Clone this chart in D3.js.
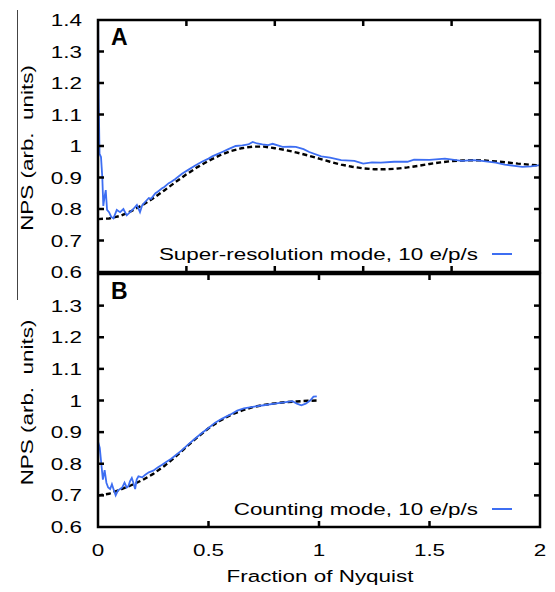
<!DOCTYPE html>
<html>
<head>
<meta charset="utf-8">
<script src="https://cdn.jsdelivr.net/npm/d3@7"></script>
<style>
  body { margin: 0; background: #fff; }
  svg { display: block; font-family: "Liberation Sans", Arial, sans-serif; }
</style>
</head>
<body>
<div id="chart"></div>
<script>
// ---- data ----
let superX = [0, 0.003, 0.007, 0.0136, 0.0195, 0.024, 0.03, 0.035, 0.041, 0.05, 0.06, 0.07, 0.085, 0.1, 0.115, 0.13, 0.145, 0.16, 0.176, 0.19, 0.2, 0.214, 0.23, 0.24, 0.26, 0.27, 0.29, 0.3, 0.32, 0.33, 0.35, 0.38, 0.41, 0.44, 0.47, 0.5, 0.517, 0.54, 0.562, 0.59, 0.623, 0.653, 0.68, 0.7, 0.72, 0.744, 0.77, 0.79, 0.835, 0.87, 0.895, 0.93, 0.956, 1.01, 1.05, 1.1, 1.16, 1.2, 1.24, 1.28, 1.34, 1.4, 1.43, 1.5, 1.57, 1.645, 1.7, 1.736, 1.8, 1.84, 1.92, 1.96, 2.0];
let superY = [1.45, 1.15, 0.975, 0.965, 0.9, 0.81, 0.84, 0.86, 0.797, 0.79, 0.775, 0.77, 0.797, 0.79, 0.8, 0.78, 0.79, 0.8, 0.813, 0.79, 0.812, 0.823, 0.835, 0.832, 0.85, 0.855, 0.866, 0.87, 0.882, 0.886, 0.895, 0.912, 0.925, 0.938, 0.95, 0.96, 0.967, 0.974, 0.981, 0.99, 1.0, 1.002, 1.005, 1.013, 1.008, 1.005, 1.003, 1.007, 0.997, 0.998, 0.997, 0.99, 0.981, 0.967, 0.963, 0.955, 0.953, 0.944, 0.948, 0.947, 0.95, 0.95, 0.957, 0.956, 0.96, 0.953, 0.955, 0.953, 0.947, 0.941, 0.934, 0.935, 0.939];

let superFitX = [0, 0.05, 0.1, 0.15, 0.2, 0.25, 0.3, 0.35, 0.4, 0.45, 0.5, 0.55, 0.6, 0.65, 0.7, 0.75, 0.8, 0.85, 0.9, 0.95, 1.0, 1.05, 1.1, 1.15, 1.2, 1.25, 1.3, 1.35, 1.4, 1.45, 1.5, 1.55, 1.6, 1.65, 1.7, 1.75, 1.8, 1.85, 1.9, 1.95, 2.0];
let superFitY = [0.768, 0.770, 0.778, 0.793, 0.812, 0.834, 0.859, 0.885, 0.910, 0.933, 0.953, 0.970, 0.984, 0.993, 0.998, 0.998, 0.993, 0.987, 0.979, 0.970, 0.960, 0.950, 0.941, 0.934, 0.929, 0.926, 0.926, 0.928, 0.932, 0.937, 0.943, 0.948, 0.952, 0.954, 0.955, 0.954, 0.951, 0.948, 0.944, 0.941, 0.938];

let countX = [0, 0.008, 0.015, 0.022, 0.03, 0.038, 0.046, 0.055, 0.063, 0.07, 0.08, 0.09, 0.1, 0.11, 0.12, 0.13, 0.138, 0.145, 0.153, 0.16, 0.168, 0.175, 0.183, 0.2, 0.214, 0.23, 0.25, 0.27, 0.29, 0.31, 0.33, 0.35, 0.38, 0.41, 0.44, 0.47, 0.5, 0.53, 0.56, 0.6, 0.63, 0.66, 0.7, 0.75, 0.8, 0.85, 0.88, 0.9, 0.92, 0.94, 0.96, 0.975, 0.99];
let countY = [0.87, 0.85, 0.80, 0.75, 0.78, 0.74, 0.725, 0.72, 0.735, 0.72, 0.70, 0.715, 0.72, 0.725, 0.74, 0.725, 0.73, 0.745, 0.755, 0.74, 0.72, 0.75, 0.76, 0.757, 0.765, 0.773, 0.778, 0.788, 0.797, 0.806, 0.815, 0.826, 0.843, 0.862, 0.88, 0.897, 0.913, 0.93, 0.942, 0.956, 0.968, 0.975, 0.98, 0.985, 0.99, 0.995, 0.998, 0.99, 0.985, 0.99, 1.0, 1.012, 1.013];

let countFitX = [0, 0.05, 0.1, 0.15, 0.2, 0.25, 0.3, 0.35, 0.4, 0.45, 0.5, 0.55, 0.6, 0.65, 0.7, 0.75, 0.8, 0.85, 0.9, 0.95, 1.0];
let countFitY = [0.70, 0.705, 0.718, 0.732, 0.748, 0.768, 0.793, 0.822, 0.853, 0.884, 0.912, 0.935, 0.954, 0.968, 0.979, 0.986, 0.991, 0.995, 0.997, 0.999, 1.0];

let yTicks = [0.6, 0.7, 0.8, 0.9, 1.0, 1.1, 1.2, 1.3, 1.4];
let xTicksA = [0.4, 0.8, 1.2, 1.6];
let xTicksB = [0, 0.5, 1, 1.5, 2];

let panels = [
  {id: "A", top: 20, bottom: 272, x: superX, y: superY, fx: superFitX, fy: superFitY,
   legend: "Super-resolution mode, 10 e/p/s", xt: xTicksA, labels: yTicks},
  {id: "B", top: 274, bottom: 527, x: countX, y: countY, fx: countFitX, fy: countFitY,
   legend: "Counting mode, 10 e/p/s", xt: xTicksB, labels: yTicks.slice(0, 8)}
];

let width = 555, height = 592;
let left = 98, right = 540;
let blue = "#3d6ef2";
let stretch = 1.32; // the original lettering is wide for its height

let svg = d3.select("#chart").append("svg")
  .attr("width", width)
  .attr("height", height);

let x = d3.scaleLinear().domain([0, 2]).range([left, right]);

function label(sel, tx, ty, anchor, txt, rot) {
  return sel.append("text")
    .attr("transform", `translate(${tx},${ty})` + (rot ? " rotate(-90)" : "") + ` scale(${stretch},1)`)
    .attr("text-anchor", anchor)
    .attr("font-size", 17)
    .style("white-space", "pre")
    .text(txt);
}

// stray rule line at the far left of the figure
svg.append("line")
  .attr("x1", 17.5).attr("x2", 17.5)
  .attr("y1", 10).attr("y2", 300)
  .attr("stroke", "#444").attr("stroke-width", 1);

panels.forEach(p => {
  let y = d3.scaleLinear().domain([0.6, 1.4]).range([p.bottom, p.top]);
  let g = svg.append("g");

  g.append("clipPath").attr("id", "clip" + p.id)
    .append("rect")
      .attr("x", left).attr("y", p.top)
      .attr("width", right - left).attr("height", p.bottom - p.top);

  let line = d3.line().x(d => x(d[0])).y(d => y(d[1]));

  // dashed model curve
  g.append("path")
    .datum(d3.zip(p.fx, p.fy))
    .attr("clip-path", `url(#clip${p.id})`)
    .attr("d", line)
    .attr("fill", "none")
    .attr("stroke", "black")
    .attr("stroke-width", 2.4)
    .attr("stroke-dasharray", "5,3");

  // measured NPS
  g.append("path")
    .datum(d3.zip(p.x, p.y))
    .attr("clip-path", `url(#clip${p.id})`)
    .attr("d", line)
    .attr("fill", "none")
    .attr("stroke", blue)
    .attr("stroke-width", 1.8);

  // y ticks, inward on both sides
  let inner = yTicks.slice(1, 8);
  g.selectAll(".yl").data(inner).enter().append("line")
    .attr("x1", left).attr("x2", left + 6)
    .attr("y1", d => y(d)).attr("y2", d => y(d))
    .attr("stroke", "black").attr("stroke-width", 2.5);
  g.selectAll(".yr").data(inner).enter().append("line")
    .attr("x1", right - 6).attr("x2", right)
    .attr("y1", d => y(d)).attr("y2", d => y(d))
    .attr("stroke", "black").attr("stroke-width", 2.5);

  // x ticks top & bottom
  let xt = p.xt.filter(d => d > 0 && d < 2);
  g.selectAll(".xt").data(xt).enter().append("line")
    .attr("x1", d => x(d)).attr("x2", d => x(d))
    .attr("y1", p.top).attr("y2", p.top + 6)
    .attr("stroke", "black").attr("stroke-width", 2.5);
  g.selectAll(".xb").data(xt).enter().append("line")
    .attr("x1", d => x(d)).attr("x2", d => x(d))
    .attr("y1", p.bottom - 6).attr("y2", p.bottom)
    .attr("stroke", "black").attr("stroke-width", 2.5);

  // frame
  g.append("rect")
    .attr("x", left).attr("y", p.top)
    .attr("width", right - left).attr("height", p.bottom - p.top)
    .attr("fill", "none").attr("stroke", "black").attr("stroke-width", 2.5);

  // y tick labels
  p.labels.forEach(d => label(g, 82, y(d) + 6, "end", d3.format("")(+d.toFixed(1))));

  // y axis title
  label(g, 33, (p.top + p.bottom) / 2 + 2, "middle", "NPS (arb.  units)", true);

  // panel letter
  g.append("text")
    .attr("x", 111).attr("y", p.top + 25)
    .attr("font-size", 23).attr("font-weight", "bold")
    .text(p.id);

  // legend
  let ly = p.bottom - 18;
  label(g, 478, ly + 6, "end", p.legend);
  g.append("line")
    .attr("x1", 492).attr("x2", 512)
    .attr("y1", ly).attr("y2", ly)
    .attr("stroke", blue).attr("stroke-width", 2);
});

// x tick labels and title under panel B
xTicksB.forEach(d => label(svg, x(d), 556, "middle", String(d)));
label(svg, 320, 582, "middle", "Fraction of Nyquist");
</script>
</body>
</html>
